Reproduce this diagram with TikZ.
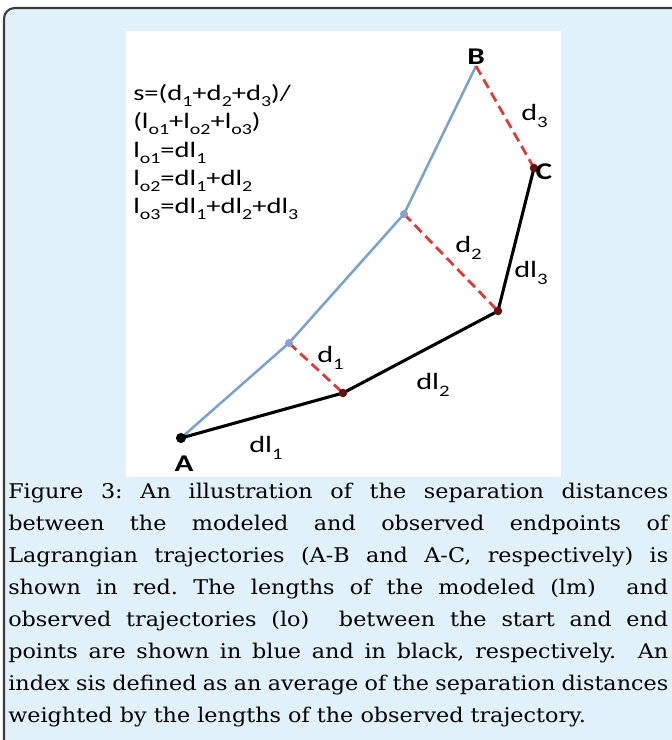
\documentclass[tikz,border=0pt]{standalone}
\usepackage{fontspec}
\setmainfont{DejaVu Serif}
\newfontfamily\capfont[FakeStretch=1.1]{DejaVu Serif}
\newfontfamily\carl[FakeStretch=1.3]{Carlito}
\definecolor{bgblue}{RGB}{224,241,251}
\definecolor{frameg}{RGB}{60,60,60}
\definecolor{lmblue}{RGB}{125,162,200}
\definecolor{sepred}{RGB}{218,60,58}
\definecolor{dotred}{RGB}{100,20,15}
\definecolor{mdotc}{RGB}{140,160,200}
\newcommand\sbx[1]{\raisebox{-0.3em}{\fontsize{11.5}{12}\selectfont #1}}
\newcommand\sbl[1]{\raisebox{-0.3em}{\fontsize{12}{12}\selectfont #1}}
\tikzset{
  lab/.style={font=\carl\fontsize{16.5}{20}\selectfont, inner sep=0, anchor=base west},
  seglab/.style={font=\carl\fontsize{17.5}{20}\selectfont, inner sep=0, anchor=base west},
  ptlab/.style={font=\carl\bfseries\fontsize{18}{20}\selectfont, inner sep=0},
  obsline/.style={line width=2.3pt, black},
  modline/.style={line width=1.9pt, lmblue},
  sepline/.style={line width=2.1pt, sepred, dash pattern=on 7.5pt off 4pt},
}
\begin{document}
\begin{tikzpicture}[x=0.75pt,y=-0.75pt]
\useasboundingbox (0,0) rectangle (672,740);
% background frame
\fill[white] (0,0) rectangle (672,740);
\fill[bgblue, rounded corners=8] (4,8) rectangle (700,780);
\draw[frameg, line width=1.6pt, rounded corners=8] (4,780) -- (4,8) -- (700,8);
% figure area
\fill[white] (126,31) rectangle (561,477);
% points
\coordinate (A) at (181,438);
\coordinate (P1) at (343,393);
\coordinate (P2) at (498,311);
\coordinate (C) at (534,168);
\coordinate (B) at (476,66);
\coordinate (M1) at (289,343);
\coordinate (M2) at (404,214);
% modeled trajectory
\draw[modline, line join=round] (A) -- (M1) -- (M2) -- (B);
% separations
\draw[sepline] (M1) -- (P1);
\draw[sepline] (M2) -- (P2);
\draw[sepline] (B) -- (C);
% observed trajectory
\draw[obsline, line join=round] (A) -- (P1) -- (P2) -- (C);
% dots
\fill[black] (A) circle (3.8pt);
\fill[dotred] (P1) circle (3.2pt);
\fill[dotred] (P2) circle (3.2pt);
\fill[dotred] (C) circle (3.2pt);
\fill[mdotc] (M1) circle (3pt);
\fill[mdotc] (M2) circle (3pt);
% point labels
\node[ptlab] (lB) at (476,57) {B};
\node[ptlab] (lC) at (544,172) {C};
\node[ptlab] (lA) at (184,464) {A};
% segment labels
\node[seglab] (ld3) at (521,120) {d\sbl{3}};
\node[seglab] (ld2) at (455,252) {d\sbl{2}};
\node[seglab] (ldl3) at (514,277) {dl\sbl{3}};
\node[seglab] (ld1) at (317,362) {d\sbl{1}};
\node[seglab] (ldl2) at (416,389) {dl\sbl{2}};
\node[seglab] (ldl1) at (249,452) {dl\sbl{1}};
% formula
\node[lab] (f1) at (133,100) {s=(d\sbx{1}+d\sbx{2}+d\sbx{3})/};
\node[lab] (f2) at (133,128) {(l\sbx{o1}+l\sbx{o2}+l\sbx{o3})};
\node[lab] (f3) at (133,157) {l\sbx{o1}=dl\sbx{1}};
\node[lab] (f4) at (133,185) {l\sbx{o2}=dl\sbx{1}+dl\sbx{2}};
\node[lab] (f5) at (133,213) {l\sbx{o3}=dl\sbx{1}+dl\sbx{2}+dl\sbx{3}};
% caption
\node[anchor=base west, inner sep=0] (cap) at (8,498) {\parbox[t]{495pt}{\capfont\fontsize{15.2}{24.1}\selectfont\frenchspacing
\tolerance=10000\hbadness=10000\hfuzz=20pt\emergencystretch=3em\hyphenpenalty=10000
Figure 3: An illustration of the separation distances\linebreak
between the modeled and observed endpoints of\linebreak
Lagrangian trajectories (A-B and A-C, respectively) is\linebreak
shown in red. The lengths of the modeled (lm)\ \ and\linebreak
observed trajectories (lo)\ \ between the start and end\linebreak
points are shown in blue and in black, respectively.\ \ An\linebreak
index sis defined as an average of the separation distances\linebreak
weighted by the lengths of the observed trajectory.}};
\end{tikzpicture}
\end{document}
